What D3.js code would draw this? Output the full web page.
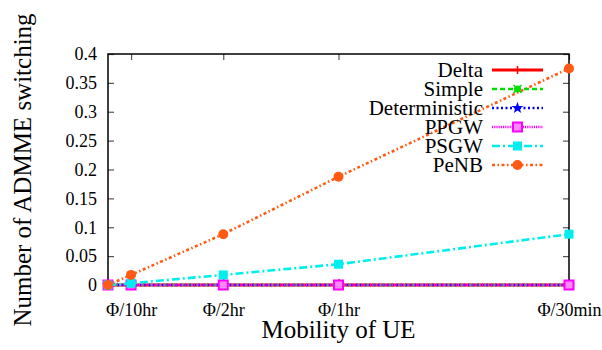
<!DOCTYPE html>
<html>
<head>
<meta charset="utf-8">
<script src="https://cdn.jsdelivr.net/npm/d3@7"></script>
<style>
  body { margin: 0; background: #fff; }
  svg { display: block; }
</style>
</head>
<body>
<svg id="chart"></svg>
<script>
// mobility rate (x), tick labels for it
var xValues = [0, 0.1, 0.5, 1, 2];
var xTicks = [0.1, 0.5, 1, 2];
var xTickLabels = ["Φ/10hr", "Φ/2hr", "Φ/1hr", "Φ/30min"];
var yTicks = [0, 0.05, 0.1, 0.15, 0.2, 0.25, 0.3, 0.35, 0.4];

var seriesNames = ["Delta", "Simple", "Deterministic", "PPGW", "PSGW", "PeNB"];
var delta = [0, 0, 0, 0, 0];
var simple = [0, 0, 0, 0, 0];
var deterministic = [0, 0, 0, 0, 0];
var ppgw = [0, 0, 0, 0, 0];
var psgw = [0, 0.003, 0.0175, 0.036, 0.088];
var penb = [0, 0.0175, 0.088, 0.1875, 0.375];

var width = 602, height = 350;
var margins = { left: 108, right: 33, top: 54, bottom: 65 };
var serif = '"Liberation Serif", "Times New Roman", "DejaVu Serif", serif';

var svg = d3.select("svg#chart").attr("width", width).attr("height", height);

var xScale = d3.scaleLinear().domain([0, 2])
  .range([margins.left, width - margins.right]);
var yScale = d3.scaleLinear().domain([0, 0.4])
  .range([height - margins.bottom, margins.top]);

// styles per series
var styles = [
  { color: "#ff0000", dash: null, marker: "plus" },
  { color: "#00e000", dash: "5,3", marker: "cross" },
  { color: "#0000ff", dash: "2,2.5", marker: "star" },
  { color: "#ff00ff", dash: "1.2,1", marker: "openSquare" },
  { color: "#00eeee", dash: "8,3,2,3", marker: "square" },
  { color: "#ff5a14", dash: "3,2.5,1.5,2.5", marker: "circle" }
];
var allSeries = [delta, simple, deterministic, ppgw, psgw, penb];

// axes (gnuplot style, ticks inward, mirrored)
var tickLen = 6;
var xAxisBottom = d3.axisBottom(xScale).tickValues(xTicks)
  .tickFormat((d, i) => xTickLabels[i]).tickSizeInner(-tickLen).tickSizeOuter(0).tickPadding(18);
var xAxisTop = d3.axisTop(xScale).tickValues(xTicks).tickFormat("").tickSizeInner(-tickLen).tickSizeOuter(0);
var yAxisLeft = d3.axisLeft(yScale).tickValues(yTicks)
  .tickFormat(d3.format("")).tickSizeInner(-tickLen).tickSizeOuter(0).tickPadding(11);
var yAxisRight = d3.axisRight(yScale).tickValues(yTicks).tickFormat("").tickSizeInner(-tickLen).tickSizeOuter(0);

function styleAxis(g) {
  g.attr("font-family", null).attr("font-size", null);
  g.select(".domain").remove();
  g.selectAll(".tick line").attr("stroke", "#555").attr("stroke-width", 1.2);
  g.selectAll(".tick text").style("font-family", serif).style("font-size", "18px").attr("fill", "#000");
}

svg.append("g").attr("transform", `translate(0,${yScale(0)})`).call(xAxisBottom).call(styleAxis);
svg.append("g").attr("transform", `translate(0,${margins.top})`).call(xAxisTop).call(styleAxis);
svg.append("g").attr("transform", `translate(${margins.left},0)`).call(yAxisLeft).call(styleAxis);
svg.append("g").attr("transform", `translate(${width - margins.right},0)`).call(yAxisRight).call(styleAxis);

// frame
svg.append("rect")
  .attr("x", margins.left).attr("y", margins.top)
  .attr("width", width - margins.left - margins.right)
  .attr("height", height - margins.top - margins.bottom)
  .attr("fill", "none").attr("stroke", "#000").attr("stroke-width", 1.5);

// axis titles
svg.append("text")
  .attr("x", (margins.left + width - margins.right) / 2)
  .attr("y", 338)
  .attr("text-anchor", "middle")
  .style("font-family", serif).style("font-size", "25px")
  .text("Mobility of UE");

svg.append("text")
  .attr("transform", "translate(31," + 170 + ") rotate(-90)")
  .attr("text-anchor", "middle")
  .style("font-family", serif).style("font-size", "25px")
  .text("Number of ADMME switching");

function drawMarker(g, type, x, y, color) {
  if (type === "plus") {
    g.append("path").attr("d", `M${x - 4},${y}H${x + 4}M${x},${y - 4}V${y + 4}`)
      .attr("stroke", color).attr("stroke-width", 1.5);
  } else if (type === "cross") {
    g.append("circle").attr("cx", x).attr("cy", y).attr("r", 3.5).attr("fill", color);
    g.append("path").attr("d", `M${x - 4},${y - 4}L${x + 4},${y + 4}M${x - 4},${y + 4}L${x + 4},${y - 4}`)
      .attr("stroke", color).attr("stroke-width", 1.5);
  } else if (type === "star") {
    g.append("path").attr("d", d3.symbol().type(d3.symbolStar).size(45)())
      .attr("transform", `translate(${x},${y})`).attr("fill", color);
  } else if (type === "openSquare") {
    g.append("rect").attr("x", x - 4.5).attr("y", y - 4.5).attr("width", 9).attr("height", 9)
      .attr("fill", "#ff88ff").attr("stroke", color).attr("stroke-width", 2);
  } else if (type === "square") {
    g.append("rect").attr("x", x - 4.5).attr("y", y - 4.5).attr("width", 9).attr("height", 9)
      .attr("fill", color);
  } else if (type === "circle") {
    g.append("circle").attr("cx", x).attr("cy", y).attr("r", 5).attr("fill", color);
  }
}

var line = d3.line().x((d) => xScale(d.x)).y((d) => yScale(d.y));

var plotGroup = svg.append("g").attr("id", "plotGroup");
allSeries.forEach((values, s) => {
  var pts = values.map((v, i) => ({ x: xValues[i], y: v }));
  var st = styles[s];
  var g = plotGroup.append("g").attr("class", seriesNames[s]);
  g.append("path")
    .attr("d", line(pts))
    .attr("fill", "none")
    .attr("stroke", st.color)
    .attr("stroke-width", s === 0 ? 3 : 2.6)
    .attr("stroke-dasharray", st.dash);
  pts.forEach((p) => drawMarker(g, st.marker, xScale(p.x), yScale(p.y), st.color));
});

// legend
var legendGroup = svg.append("g").attr("id", "legendGroup");
seriesNames.forEach((name, s) => {
  var y = 70 + s * 19;
  var st = styles[s];
  legendGroup.append("text")
    .attr("x", 483).attr("y", y)
    .attr("dy", "0.33em")
    .attr("text-anchor", "end")
    .style("font-family", serif).style("font-size", "21px")
    .text(name);
  legendGroup.append("line")
    .attr("x1", 492).attr("x2", 543).attr("y1", y).attr("y2", y)
    .attr("stroke", st.color)
    .attr("stroke-width", s === 0 ? 3 : 2.6)
    .attr("stroke-dasharray", st.dash);
  drawMarker(legendGroup, st.marker, 517.5, y, st.color);
});
</script>
</body>
</html>
